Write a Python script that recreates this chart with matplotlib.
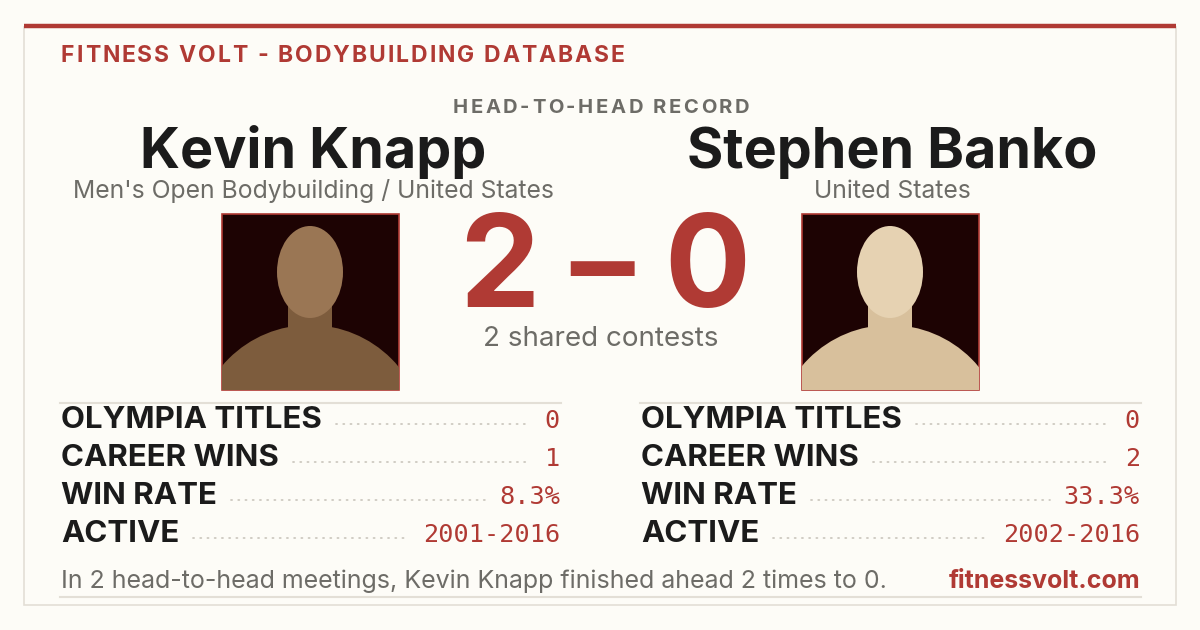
import matplotlib
matplotlib.use("Agg")
import matplotlib.pyplot as plt
from matplotlib.patches import Rectangle, Ellipse

# ---- card content ----
brand = "FITNESS VOLT - BODYBUILDING DATABASE"
subtitle = "HEAD-TO-HEAD RECORD"
athletes = ["Kevin Knapp", "Stephen Banko"]
divisions = ["Men's Open Bodybuilding / United States", "United States"]
score = [2, 0]
shared_contests = 2
stat_labels = ["OLYMPIA TITLES", "CAREER WINS", "WIN RATE", "ACTIVE"]
stats_left = ["0", "1", "8.3%", "2001-2016"]
stats_right = ["0", "2", "33.3%", "2002-2016"]
site = "fitnessvolt.com"

RED = "#b03a34"
DARK = "#1b1b1b"
GRAY = "#6d6c67"
BG = "#fdfcf7"
LINE = "#e3dfd6"
DOTS = "#cdc9c0"
SANS = ["Inter", "DejaVu Sans"]
MONO = ["DejaVu Sans Mono"]

fig = plt.figure(figsize=(12, 6.3), dpi=100, facecolor=BG)
ax = fig.add_axes([0, 0, 1, 1])
ax.set_xlim(0, 1200)
ax.set_ylim(630, 0)
ax.axis("off")
renderer = fig.canvas.get_renderer()


def width_of(s, **kw):
    t = ax.text(0, 0, s, **kw)
    bb = t.get_window_extent(renderer)
    t.remove()
    return bb.width


def tracked(x, y, s, track, ha="left", **kw):
    # draw text with extra letter spacing
    bar = width_of("|", **kw)
    offs = [width_of(s[:i] + "|", **kw) - bar if i else 0 for i in range(len(s))]
    total = width_of(s, **kw) + track * (len(s) - 1)
    if ha == "center":
        x -= total / 2
    for i, ch in enumerate(s):
        ax.text(x + offs[i] + i * track, y, ch, va="baseline", ha="left", **kw)


def extent(t):
    bb = t.get_window_extent(renderer)
    inv = ax.transData.inverted()
    (x0, _), (x1, _) = inv.transform([[bb.x0, bb.y0], [bb.x1, bb.y1]])
    return x0, x1


# card
ax.add_patch(Rectangle((24, 27), 1152, 578, facecolor=BG, edgecolor=LINE, lw=1.2))
ax.plot([24, 1176], [26, 26], color=RED, lw=3.2, solid_capstyle="butt")

tracked(61, 62, brand, 2.0, color=RED, fontsize=16.5, fontweight="bold", family=SANS)
tracked(601, 113, subtitle, 2.6, ha="center", color=GRAY, fontsize=14.5, fontweight="bold", family=SANS)

name_x = [313, 892]
for i in range(2):
    ax.text(name_x[i], 168, athletes[i], ha="center", va="baseline", color=DARK,
            fontsize=40, fontweight="bold", family=SANS)
    ax.text(name_x[i], 198, divisions[i], ha="center", va="baseline", color=GRAY,
            fontsize=17.8, family=SANS)

# photo placeholders
photos = [(222, "#7d5c3d", "#9a7654"), (802, "#d8c09c", "#e6d2b2")]
for px, body, head in photos:
    frame = Rectangle((px, 214), 177, 176, facecolor="#1d0303", edgecolor=RED, lw=1.2)
    ax.add_patch(frame)
    cx = px + 88
    torso = Ellipse((cx, 440), 230, 230, facecolor=body, edgecolor="none")
    neck = Rectangle((cx - 22, 290), 44, 50, facecolor=body, edgecolor="none")
    skull = Ellipse((cx, 272), 66, 92, facecolor=head, edgecolor="none")
    for p in (torso, neck, skull):
        ax.add_patch(p)
        p.set_clip_path(frame)

ax.text(606, 307, f"{score[0]} \u2013 {score[1]}", ha="center", va="baseline", color=RED,
        fontsize=92, fontweight="bold", family=SANS)
ax.text(601, 346, f"{shared_contests} shared contests", ha="center", va="baseline",
        color=GRAY, fontsize=20, family=SANS)

# stat tables
cols = [(61, 560, stats_left), (641, 1140, stats_right)]
for x0, x1, vals in cols:
    ax.plot([x0 - 1, x1 + 1], [403, 403], color=LINE, lw=1.5)
    for r, (lab, val) in enumerate(zip(stat_labels, vals)):
        y = 428 + r * 38
        tl = ax.text(x0, y, lab, va="baseline", ha="left", color=DARK,
                     fontsize=22.5, fontweight="bold", family=SANS)
        tv = ax.text(x1, y, val, va="baseline", ha="right", color=RED,
                     fontsize=18.2, family=MONO)
        a = extent(tl)[1] + 14
        b = extent(tv)[0] - 14
        ax.plot([a, b], [y - 4, y - 4], color=DOTS, lw=1.3, ls=(0, (0.6, 3.4)),
                dash_capstyle="round")

footer = (f"In {shared_contests} head-to-head meetings, {athletes[0]} finished ahead "
          f"{score[0]} times to {score[1]}.")
ax.text(61, 588, footer, va="baseline", ha="left", color=GRAY, fontsize=18, family=SANS)
ax.text(1140, 588, site, va="baseline", ha="right", color=RED, fontsize=18,
        fontweight="bold", family=SANS)
ax.plot([60, 1141], [597, 597], color=LINE, lw=1.5)

fig.savefig("out.png", dpi=100, facecolor=BG)
